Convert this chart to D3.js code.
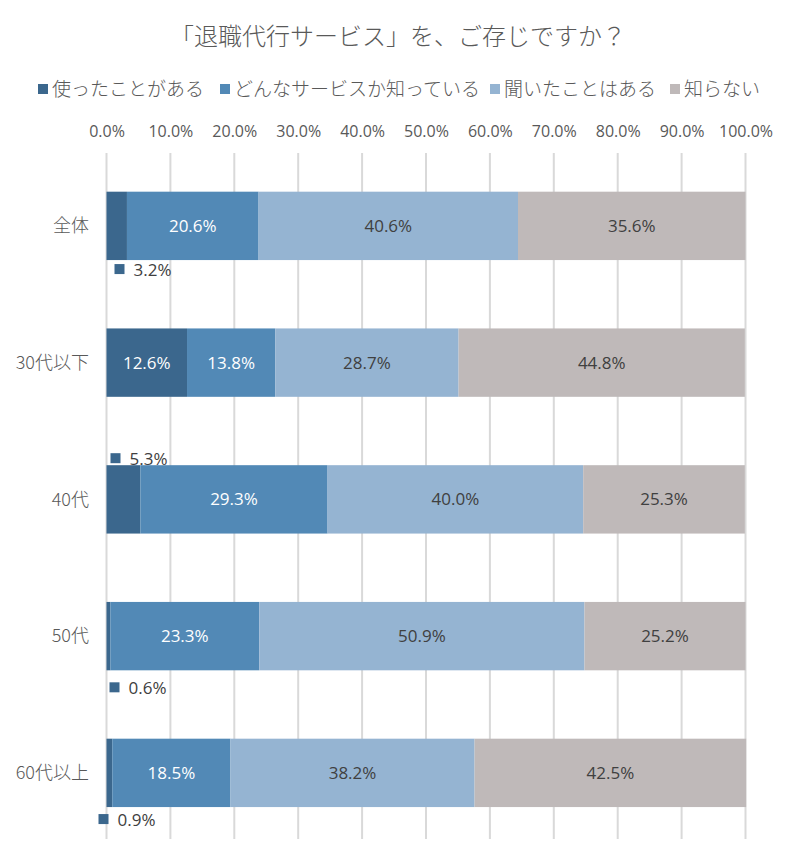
<!DOCTYPE html>
<html><head><meta charset="utf-8">
<script src="https://cdn.jsdelivr.net/npm/d3@7"></script>
<style>
body{margin:0;background:#fff;}
svg{display:block;font-family:"Noto Sans CJK JP","Open Sans",sans-serif;}
</style></head>
<body><svg id="c" width="796" height="863"></svg>
<script>
const title = "「退職代行サービス」を、ご存じですか？";
const categories = ["全体","30代以下","40代","50代","60代以上"];
const seriesNames = ["使ったことがある","どんなサービスか知っている","聞いたことはある","知らない"];
const used = [3.2,12.6,5.3,0.6,0.9];
const knowWhat = [20.6,13.8,29.3,23.3,18.5];
const heard = [40.6,28.7,40.0,50.9,38.2];
const dontKnow = [35.6,44.8,25.3,25.2,42.5];
const tickValues = [0,10,20,30,40,50,60,70,80,90,100];
const colors = ["#3b678d","#5289b6","#95b4d2","#bfb9b9"];
const textColors = ["#ffffff","#ffffff","#404040","#404040"];

const series = [used, knowWhat, heard, dontKnow];
const svg = d3.select("#c");
const x = d3.scaleLinear().domain([0,100]).range([106.5,745.5]);
const y = d3.scaleBand().domain(categories).range([157.5,841.25]).paddingInner(0.5).paddingOuter(0.25);

// title
svg.append("text").attr("x",398).attr("y",45).attr("text-anchor","middle")
  .attr("font-size",24).attr("font-weight",300).attr("fill","#595959").text(title);

// legend
const legendX = [38,220,490,670];
seriesNames.forEach((n,i)=>{
  svg.append("rect").attr("x",legendX[i]).attr("y",84).attr("width",10).attr("height",10).attr("fill",colors[i]);
  svg.append("text").attr("x",legendX[i]+14).attr("y",96).attr("font-size",19).attr("font-weight",300).attr("fill","#595959").text(n);
});

// gridlines
svg.append("g").selectAll("line").data(tickValues).join("line")
  .attr("x1",d=>x(d)).attr("x2",d=>x(d)).attr("y1",153).attr("y2",839)
  .attr("stroke","#d9d9d9").attr("stroke-width",2);

// top axis labels
const numFont = "'Open Sans','Noto Sans',sans-serif";
const axis = d3.axisTop(x).tickValues(tickValues).tickSize(0).tickFormat(d=>d.toFixed(1)+"%");
const ag = svg.append("g").attr("transform","translate(0,140)").call(axis);
ag.select(".domain").remove();
ag.selectAll("text").attr("font-size",16).attr("fill","#595959").attr("font-family",numFont);

// category labels
svg.append("g").selectAll("text").data(categories).join("text")
  .attr("x",89).attr("y",d=>y(d)+y.bandwidth()/2).attr("dy","0.35em")
  .attr("text-anchor","end").attr("font-size",18).attr("font-weight",300).attr("fill","#595959").text(d=>d);

// bars
const stacked = categories.map((c,ci)=>{
  let acc=0;
  return series.map((s,si)=>{ const v=s[ci]; const r={c,si,v,x0:acc,x1:acc+v}; acc+=v; return r; });
});
const flat = stacked.flat();
svg.append("g").selectAll("rect").data(flat).join("rect")
  .attr("x",d=>x(d.x0)).attr("y",d=>y(d.c)).attr("width",d=>x(d.x1)-x(d.x0)).attr("height",y.bandwidth())
  .attr("fill",d=>colors[d.si]);

// inside labels (segments wide enough)
svg.append("g").selectAll("text").data(flat.filter(d=>d.v>=10)).join("text")
  .attr("x",d=>x((d.x0+d.x1)/2)).attr("y",d=>y(d.c)+y.bandwidth()/2).attr("dy","0.36em")
  .attr("text-anchor","middle").attr("font-size",17).attr("font-family",numFont)
  .attr("fill",d=>textColors[d.si]).text(d=>d.v.toFixed(1)+"%");

// outside labels for small segments, with legend key
const outsidePlace = {"全体":{dx:8,dy:9},"40代":{dx:4,dy:-7},"50代":{dx:3,dy:17},"60代以上":{dx:-8,dy:12}};
const small = flat.filter(d=>d.v<10);
small.forEach(d=>{
  const p = outsidePlace[d.c];
  const top = y(d.c), bot = top+y.bandwidth();
  const cy = p.dy>0 ? bot+p.dy : top+p.dy;
  const gx = x(d.x0)+p.dx;
  svg.append("rect").attr("x",gx).attr("y",cy-5).attr("width",10).attr("height",10).attr("fill",colors[d.si]);
  svg.append("text").attr("x",gx+19).attr("y",cy).attr("dy","0.38em")
    .attr("font-size",17).attr("font-family",numFont).attr("fill","#404040").text(d.v.toFixed(1)+"%");
});
</script></body></html>
